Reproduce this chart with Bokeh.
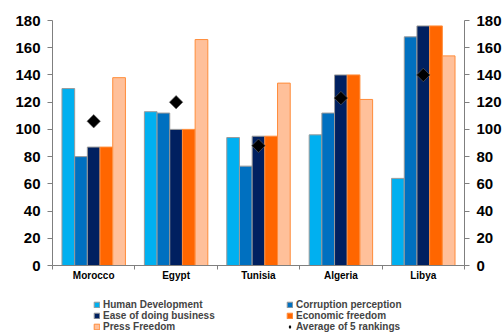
import math
from bokeh.plotting import figure
from bokeh.models import (Range1d, LinearAxis, FixedTicker, Legend, LegendItem)
from bokeh.layouts import column
from bokeh.embed import file_html
from bokeh.resources import INLINE

countries = ["Morocco", "Egypt", "Tunisia", "Algeria", "Libya"]
human_development = [130, 113, 94, 96, 64]
corruption_perception = [80, 112, 73, 112, 168]
ease_of_doing_business = [87, 100, 95, 140, 176]
economic_freedom = [87, 100, 95, 140, 176]
press_freedom = [138, 166, 134, 122, 154]
average_rankings = [106, 120, 88, 123, 140]
y_ticks = [0, 20, 40, 60, 80, 100, 120, 140, 160, 180]

series = [
    ("Human Development", human_development, "#00B0F0", "#9a9a9a"),
    ("Corruption perception", corruption_perception, "#0070C0", "#9a9a9a"),
    ("Ease of doing business", ease_of_doing_business, "#002060", "#9a9a9a"),
    ("Economic freedom", economic_freedom, "#FF6600", "#FF8C3A"),
    ("Press Freedom", press_freedom, "#FFC09A", "#FF8C3A"),
]
avg_label = "Average of 5 rankings"

FONT = "Liberation Sans"

p = figure(width=504, height=290, output_backend="svg", toolbar_location=None,
           x_range=Range1d(0, len(countries)), y_range=Range1d(0, 180),
           min_border_left=52, min_border_right=37, min_border_top=20,
           min_border_bottom=25, x_axis_location=None, y_axis_location=None)
p.outline_line_color = None
p.xgrid.visible = False
p.ygrid.visible = False

bw = 0.154
centers = [i + 0.5 for i in range(len(countries))]
for k, (name, vals, fill, line) in enumerate(series):
    off = (k - 2) * bw
    p.vbar(x=[c + off for c in centers], top=vals, width=bw, bottom=0,
           fill_color=fill, line_color=line, line_width=1)

p.scatter(x=centers, y=average_rankings, marker="square", size=9.5,
          angle=math.pi / 4, fill_color="black", line_color="#666666",
          line_width=0.6)

def style_axis(ax):
    ax.axis_line_color = "#7f7f7f"
    ax.major_tick_line_color = "#7f7f7f"
    ax.minor_tick_line_color = "#7f7f7f"
    ax.major_label_text_font = FONT
    ax.major_label_text_font_style = "bold"
    ax.major_label_text_color = "black"

xa = LinearAxis(ticker=FixedTicker(ticks=centers, minor_ticks=list(range(len(countries) + 1))))
xa.major_label_overrides = {c: n for c, n in zip(centers, countries)}
style_axis(xa)
xa.major_tick_out = 0
xa.major_tick_in = 0
xa.minor_tick_out = 4
xa.minor_tick_in = 0
xa.major_label_text_font_size = "10px"
xa.major_label_standoff = 0
p.add_layout(xa, "below")

for side in ("left", "right"):
    ya = LinearAxis(ticker=FixedTicker(ticks=y_ticks))
    style_axis(ya)
    ya.major_tick_out = 5
    ya.major_tick_in = 0
    ya.minor_tick_line_color = None
    ya.major_label_text_font_size = "15px"
    ya.major_label_standoff = 7
    p.add_layout(ya, side)

# legend panel (its swatch renderers sit outside the visible range)
lg = figure(width=504, height=42, output_backend="svg", toolbar_location=None,
            x_range=Range1d(0, 1), y_range=Range1d(0, 1),
            min_border=0, x_axis_location=None, y_axis_location=None)
lg.outline_line_color = None
lg.xgrid.visible = False
lg.ygrid.visible = False
rmap = {}
for name, vals, fill, line in series:
    rmap[name] = lg.vbar(x=[-5], top=[-5], bottom=[-6], width=0.1, fill_color=fill,
                         line_color=line, line_width=1)
rmap[avg_label] = lg.scatter(x=[-5], y=[-5], marker="diamond", size=8,
                             fill_color="black", line_color="black")
order = ["Human Development", "Ease of doing business", "Press Freedom",
         "Corruption perception", "Economic freedom", avg_label]
items = [LegendItem(label=n, renderers=[rmap[n]]) for n in order]
legend = Legend(items=items, ncols=2, location=(41, 0),
                label_text_font=FONT, label_text_font_style="bold",
                label_text_font_size="10px", label_height=9, glyph_height=7,
                glyph_width=7, label_standoff=3, spacing=0, padding=0,
                margin=0, border_line_color=None, label_width=183,
                background_fill_alpha=0)
lg.add_layout(legend, "center")

open("out.html", "w").write(file_html(column(p, lg, spacing=0), INLINE))
